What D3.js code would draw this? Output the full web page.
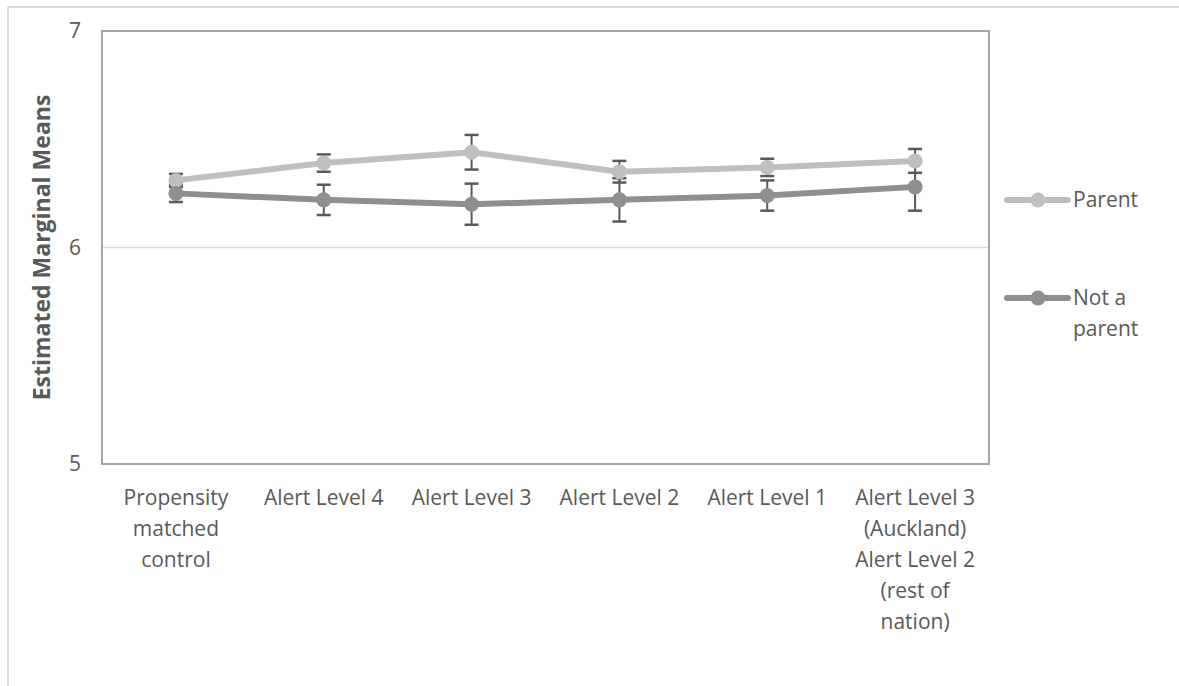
<!DOCTYPE html>
<html>
<head>
<meta charset="utf-8">
<script src="https://cdn.jsdelivr.net/npm/d3@7"></script>
<style>
  html, body { margin: 0; padding: 0; background: #fff; }
  svg { display: block; }
  text { font-family: "Open Sans", "Noto Sans", sans-serif; fill: #595959; }
</style>
</head>
<body>
<svg id="chart" width="1179" height="686"></svg>
<script>
// ---- data ----
const categories = [
  ["Propensity", "matched", "control"],
  ["Alert Level 4"],
  ["Alert Level 3"],
  ["Alert Level 2"],
  ["Alert Level 1"],
  ["Alert Level 3", "(Auckland)", "Alert Level 2", "(rest of", "nation)"]
];
const seriesNames = ["Parent", "Not a parent"];
const parentValues = [6.31, 6.39, 6.44, 6.35, 6.37, 6.40];
const parentErrors = [0.03, 0.04, 0.08, 0.05, 0.04, 0.055];
const notParentValues = [6.25, 6.22, 6.20, 6.22, 6.24, 6.28];
const notParentErrors = [0.04, 0.07, 0.095, 0.10, 0.07, 0.11];
const yTicks = [5, 6, 7];
const yTitle = "Estimated Marginal Means";

// ---- layout ----
const svg = d3.select("#chart");
const plot = { left: 102, top: 31, right: 989, bottom: 464 };
const colors = { "Parent": "#bfbfbf", "Not a parent": "#8f8f8f" };
const errColor = "#595959";
const fontSize = 21;

// outer frame (top + left edges)
svg.append("line").attr("x1", 8).attr("x2", 1179).attr("y1", 7).attr("y2", 7)
  .attr("stroke", "#d9d9d9").attr("stroke-width", 2);
svg.append("line").attr("x1", 8).attr("x2", 8).attr("y1", 7).attr("y2", 686)
  .attr("stroke", "#d9d9d9").attr("stroke-width", 2);

const x = d3.scaleBand().domain(d3.range(categories.length))
  .range([plot.left, plot.right]).padding(0);
const y = d3.scaleLinear().domain([5, 7]).range([plot.bottom, plot.top]);

// gridline at 6
svg.append("g").selectAll("line").data(yTicks.filter(t => t > 5 && t < 7)).join("line")
  .attr("x1", plot.left).attr("x2", plot.right)
  .attr("y1", d => y(d)).attr("y2", d => y(d))
  .attr("stroke", "#d9d9d9").attr("stroke-width", 1.5);

// plot border
svg.append("rect").attr("x", plot.left).attr("y", plot.top)
  .attr("width", plot.right - plot.left).attr("height", plot.bottom - plot.top)
  .attr("fill", "none").attr("stroke", "#a6a6a6").attr("stroke-width", 2);

// y axis tick labels
const yAxis = d3.axisLeft(y).tickValues(yTicks).tickSize(0).tickPadding(21)
  .tickFormat(d3.format("d"));
const gy = svg.append("g").attr("transform", `translate(${plot.left},0)`).call(yAxis);
gy.select(".domain").remove();
gy.selectAll("text").style("font-size", fontSize + "px").attr("fill", "#595959")
  .style("font-family", "'Open Sans', sans-serif");

// x axis labels (multi-line)
const xAxis = d3.axisBottom(x).tickSize(0).tickFormat(() => "");
const gx = svg.append("g").attr("transform", `translate(0,${plot.bottom})`).call(xAxis);
gx.select(".domain").remove();
gx.selectAll(".tick").each(function(d) {
  const t = d3.select(this).append("text")
    .attr("text-anchor", "middle")
    .style("font-size", fontSize + "px")
    .attr("fill", "#595959");
  categories[d].forEach((line, i) => {
    t.append("tspan").attr("x", 0).attr("y", 41 + i * 31).text(line);
  });
});

// y title
svg.append("text")
  .attr("transform", `translate(50,${(plot.top + plot.bottom) / 2}) rotate(-90)`)
  .attr("text-anchor", "middle")
  .style("font-size", "23px").style("font-weight", "bold")
  .text(yTitle);

// series
const series = [
  { name: seriesNames[0], values: parentValues, errors: parentErrors },
  { name: seriesNames[1], values: notParentValues, errors: notParentErrors }
];
const cx = i => x(i) + x.bandwidth() / 2;
const line = d3.line().x((d, i) => cx(i)).y(d => y(d));

series.forEach(s => {
  const g = svg.append("g");
  s.values.forEach((v, i) => {
    const e = s.errors[i];
    g.append("line").attr("x1", cx(i)).attr("x2", cx(i))
      .attr("y1", y(v - e)).attr("y2", y(v + e))
      .attr("stroke", errColor).attr("stroke-width", 2);
    [v - e, v + e].forEach(b => {
      g.append("line").attr("x1", cx(i) - 7).attr("x2", cx(i) + 7)
        .attr("y1", y(b)).attr("y2", y(b))
        .attr("stroke", errColor).attr("stroke-width", 2.5);
    });
  });
});
series.forEach(s => {
  const g = svg.append("g");
  g.append("path").datum(s.values).attr("d", line)
    .attr("fill", "none").attr("stroke", colors[s.name])
    .attr("stroke-width", 6).attr("stroke-linejoin", "round");
  g.selectAll("circle").data(s.values).join("circle")
    .attr("cx", (d, i) => cx(i)).attr("cy", d => y(d)).attr("r", 7.5)
    .attr("fill", colors[s.name]);
});

// legend
const legend = [
  { name: "Parent", lines: ["Parent"], y: 200 },
  { name: "Not a parent", lines: ["Not a", "parent"], y: 298 }
];
legend.forEach(l => {
  const g = svg.append("g");
  g.append("line").attr("x1", 1007).attr("x2", 1068).attr("y1", l.y).attr("y2", l.y)
    .attr("stroke", colors[l.name]).attr("stroke-width", 6).attr("stroke-linecap", "round");
  g.append("circle").attr("cx", 1038).attr("cy", l.y).attr("r", 7.5).attr("fill", colors[l.name]);
  const t = g.append("text").style("font-size", fontSize + "px");
  l.lines.forEach((ln, i) => {
    t.append("tspan").attr("x", 1073).attr("y", l.y + 7 + i * 31).text(ln);
  });
});
</script>
</body>
</html>
